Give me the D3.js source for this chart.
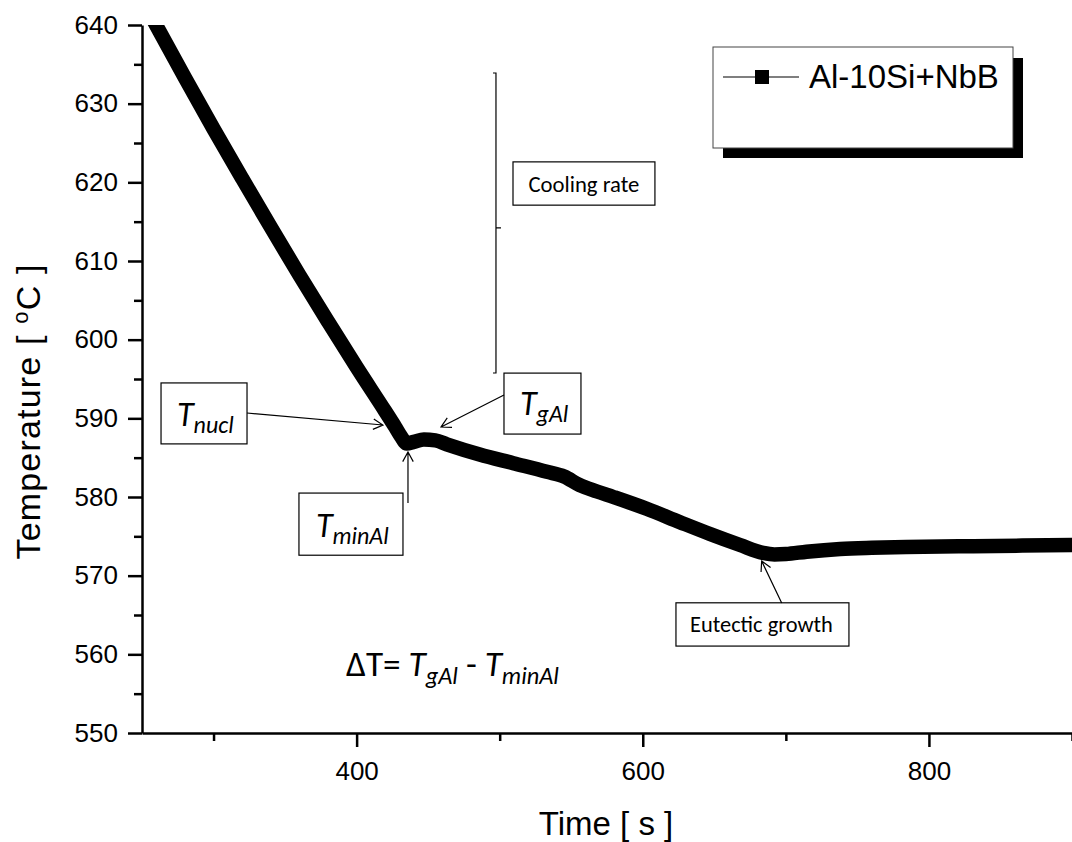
<!DOCTYPE html>
<html><head><meta charset="utf-8">
<script src="https://cdn.jsdelivr.net/npm/d3@7"></script>
<style>body{margin:0;background:#fff;} svg{display:block}</style>
</head><body><svg id="c" width="1072" height="842"></svg>
<script>
// ---------- data ----------
const timeS = [255, 259.8, 280, 300, 320, 340, 360, 380, 400, 420, 427, 431, 435, 440, 447, 455, 463, 486, 509.5, 533, 545, 556, 568, 579.4, 602.7, 626, 647, 668, 684, 692, 700, 714.5, 738, 760, 784, 831, 900];
const tempC = [641.6, 640, 633.3, 626.8, 620.5, 614.3, 608.2, 602.3, 596.5, 590.9, 588.9, 587.7, 586.8, 587.0, 587.3, 587.2, 586.7, 585.4, 584.3, 583.2, 582.6, 581.5, 580.7, 580.0, 578.5, 576.8, 575.3, 573.9, 572.9, 572.7, 572.75, 573.05, 573.4, 573.55, 573.65, 573.75, 573.9];
const xMajorTicks = [400, 600, 800];
const xMinorTicks = [300, 500, 700, 900];
const yMajorTicks = [550, 560, 570, 580, 590, 600, 610, 620, 630, 640];
const yMinorTicks = [555, 565, 575, 585, 595, 605, 615, 625, 635];
const seriesName = "Al-10Si+NbB";
const xTitle = "Time [ s ]";
const yTitleParts = ["Temperature [ ", "o", "C ]"];

// ---------- setup ----------
const svg = d3.select("#c");
const x = d3.scaleLinear().domain([250, 900]).range([142, 1072]);
const y = d3.scaleLinear().domain([550, 640]).range([733, 25]);
const ARIAL = "'Liberation Sans', Arial, sans-serif";
const CALI = "Carlito, Calibri, Lato, sans-serif";

svg.append("defs").append("clipPath").attr("id", "plotclip")
  .append("rect").attr("x", x(250)).attr("y", y(640))
  .attr("width", x(900) - x(250)).attr("height", y(550) - y(640));

// ---------- curve ----------
const pts = timeS.map((t, i) => [t, tempC[i]]);
svg.append("path").datum(pts)
  .attr("clip-path", "url(#plotclip)")
  .attr("fill", "none").attr("stroke", "#000").attr("stroke-width", 14.5)
  .attr("stroke-linejoin", "round").attr("stroke-linecap", "round")
  .attr("d", d3.line().x(d => x(d[0])).y(d => y(d[1])).curve(d3.curveMonotoneX));

// ---------- axes ----------
function styleAxis(g) {
  g.selectAll("path.domain").attr("stroke", "#000").attr("stroke-width", 2.5);
  g.selectAll(".tick line").attr("stroke", "#000").attr("stroke-width", 2.5);
  g.selectAll(".tick text").attr("fill", "#000").attr("font-family", ARIAL).attr("font-size", 26);
}
const gx = svg.append("g").attr("transform", `translate(0,${y(550)})`)
  .call(d3.axisBottom(x).tickValues(xMajorTicks).tickSize(14).tickSizeOuter(0).tickPadding(15).tickFormat(d3.format("d")))
  .call(styleAxis);
const gxm = svg.append("g").attr("transform", `translate(0,${y(550)})`)
  .call(d3.axisBottom(x).tickValues(xMinorTicks).tickSize(8).tickFormat(""))
  .call(styleAxis);
gxm.select("path.domain").remove();

const gy = svg.append("g").attr("transform", `translate(${x(250)},0)`)
  .call(d3.axisLeft(y).tickValues(yMajorTicks).tickSize(14).tickSizeOuter(0).tickPadding(10).tickFormat(d3.format("d")))
  .call(styleAxis);
const gym = svg.append("g").attr("transform", `translate(${x(250)},0)`)
  .call(d3.axisLeft(y).tickValues(yMinorTicks).tickSize(8).tickFormat(""))
  .call(styleAxis);
gym.select("path.domain").remove();

// axis titles
svg.append("text").attr("x", 606).attr("y", 835).attr("text-anchor", "middle")
  .attr("font-family", ARIAL).attr("font-size", 33).text(xTitle);
const yt = svg.append("text").attr("transform", "translate(40,412) rotate(-90)")
  .attr("text-anchor", "middle").attr("font-family", ARIAL).attr("font-size", 34)
  .attr("textLength", 295).attr("lengthAdjust", "spacing");
yt.append("tspan").text(yTitleParts[0]);
yt.append("tspan").text(yTitleParts[1]).attr("font-size", 22).attr("dy", -12);
yt.append("tspan").text(yTitleParts[2]).attr("dy", 12);

// ---------- legend ----------
const lg = svg.append("g");
lg.append("rect").attr("x", 723).attr("y", 58).attr("width", 300).attr("height", 100).attr("fill", "#000");
lg.append("rect").attr("x", 713).attr("y", 47).attr("width", 300).attr("height", 101)
  .attr("fill", "#fff").attr("stroke", "#444").attr("stroke-width", 1);
lg.append("line").attr("x1", 723).attr("x2", 799).attr("y1", 77).attr("y2", 77)
  .attr("stroke", "#555").attr("stroke-width", 1.5);
lg.append("rect").attr("x", 755).attr("y", 70).attr("width", 14).attr("height", 14).attr("fill", "#000");
lg.append("text").attr("x", 809).attr("y", 88).attr("font-family", ARIAL).attr("font-size", 33).text(seriesName);

// ---------- annotations ----------
const ann = svg.append("g");
function box(t0, t1, T0, T1) {
  ann.append("rect").attr("x", x(t0)).attr("y", y(T0))
    .attr("width", x(t1) - x(t0)).attr("height", y(T1) - y(T0))
    .attr("fill", "#fff").attr("stroke", "#000").attr("stroke-width", 1.2);
  return {l: x(t0), r: x(t1), t: y(T0), b: y(T1)};
}
function arrow(ta, Ta, tb, Tb) {
  const x1 = x(ta), y1 = y(Ta), x2 = x(tb), y2 = y(Tb);
  const a = Math.atan2(y2 - y1, x2 - x1), L = 11, s = 0.5;
  ann.append("path").attr("fill", "none").attr("stroke", "#000").attr("stroke-width", 1.2)
    .attr("d", `M${x1},${y1}L${x2},${y2}` +
      `M${x2 - L * Math.cos(a - s)},${y2 - L * Math.sin(a - s)}L${x2},${y2}` +
      `L${x2 - L * Math.cos(a + s)},${y2 - L * Math.sin(a + s)}`);
}
function rich(xp, yp, parts, k, anchor) {
  const t = ann.append("text").attr("x", xp).attr("y", yp).attr("font-family", CALI)
    .attr("text-anchor", anchor || "start").attr("fill", "#000");
  parts.forEach(p => t.append("tspan").text(p.s).attr("font-size", p.fs * k)
    .attr("font-style", p.it ? "italic" : "normal").attr("dy", (p.dy || 0) * k));
  return t;
}
function fitted(xp, yp, parts, target, anchor) {
  const t = rich(xp, yp, parts, 1, anchor);
  const w = t.node().getComputedTextLength();
  t.remove();
  return rich(xp, yp, parts, target / w, anchor);
}

// cooling-rate bracket
const bx = x(497.4), bTop = y(633.9), bBot = y(595.76), bMid = y(614.2);
ann.append("path").attr("fill", "none").attr("stroke", "#000").attr("stroke-width", 1.2)
  .attr("d", `M${bx - 3},${bTop}H${bx}V${bBot}H${bx - 3}M${bx},${bMid}H${bx + 5}`);
const bc = box(509.3, 608.5, 622.6, 617.1);
fitted((bc.l + bc.r) / 2, bc.b - 13, [{s: "Cooling rate", fs: 21}], 111, "middle");

// T_nucl
const bn = box(263.3, 323.4, 594.5, 586.75);
rich(bn.l + 16, bn.b - 18, [{s: "T", fs: 34, it: 1}, {s: "nucl", fs: 24, it: 1, dy: 7}], 1);
arrow(323.4, 590.68, 418.4, 589.15);

// T_gAl
const bg = box(503.0, 556.8, 595.75, 588.0);
rich(bg.l + 16, bg.b - 19, [{s: "T", fs: 34, it: 1}, {s: "gAl", fs: 24, it: 1, dy: 7}], 1);
arrow(503.0, 592.97, 459.0, 588.9);

// T_minAl
const bm = box(359.7, 432.4, 580.5, 572.6);
rich(bm.l + 17, bm.b - 18, [{s: "T", fs: 34, it: 1}, {s: "minAl", fs: 24, it: 1, dy: 7}], 1);
arrow(435.9, 579.24, 435.9, 585.72);

// Eutectic growth
const be = box(623.2, 744.1, 566.55, 561.05);
fitted(be.l + 14, be.b - 14, [{s: "Eutectic growth", fs: 21}], 143);
arrow(697.1, 566.52, 683.1, 571.86);

// Delta T formula
fitted(x(392.6), y(557.25), [
  {s: "\u0394T= ", fs: 26}, {s: "T", fs: 26, it: 1}, {s: "gAl", fs: 18, it: 1, dy: 6},
  {s: " - ", fs: 26, dy: -6}, {s: "T", fs: 26, it: 1}, {s: "minAl", fs: 18, it: 1, dy: 6}
], 213);
</script>
</body></html>
